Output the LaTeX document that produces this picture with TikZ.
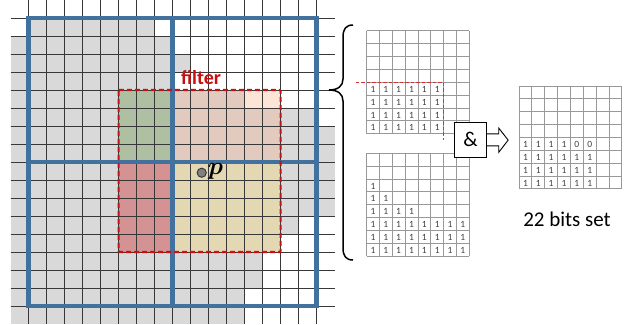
\documentclass[tikz,border=0pt]{standalone}
\usepackage{fontspec}
\setmainfont{Carlito}
\usepackage{bm}
\definecolor{gfill}{RGB}{217,217,217}
\definecolor{bluec}{RGB}{65,113,156}
\definecolor{redc}{RGB}{200,16,16}
\definecolor{greenf}{RGB}{175,191,162}
\definecolor{beigef}{RGB}{226,203,190}
\definecolor{peachf}{RGB}{252,229,214}
\definecolor{redf}{RGB}{213,146,147}
\definecolor{yellowf}{RGB}{228,216,179}
\tikzset{
  gridline/.style={draw=black!78, line width=0.95pt},
  blueline/.style={draw=bluec, line width=4.7pt},
  filterline/.style={draw=redc, line width=2.1pt, dash pattern=on 5pt off 3pt},
  smallgrid/.style={draw=black!40, line width=0.8pt},
  bitnum/.style={font=\fontsize{9.5}{10}\selectfont, text=black!75, inner sep=0pt},
  brace/.style={draw=black, line width=1.5pt},
  blockarrow/.style={draw=black, line width=0.9pt, fill=white, line join=miter},
}
\begin{document}
\begin{tikzpicture}[x=1pt,y=-1pt]
\useasboundingbox (0,0) rectangle (636,324);
\fill[white] (0,0) rectangle (636,324);

% ---- main grid ----
\begin{scope}[shift={(28.6,18)}]
\begin{scope}[x=18pt,y=-18pt]
  \foreach \r/\a/\b in {0/0/6,1/-1/7,2/-1/8,3/-1/7,4/-1/11,5/-1/15,6/-1/16,7/-1/16,8/-1/16,9/-1/16,10/-1/16,11/-1/14,12/-1/13,13/-1/12,14/-1/12,15/-1/11,16/-1/11}
    \fill[gfill] (\a,\r) rectangle ({\b+1},{\r+1});
  \fill[greenf] (5,4) rectangle (8,8);
  \fill[beigef] (8,4) rectangle (14,8);
  \fill[peachf] (12,4) rectangle (14,5);
  \fill[redf] (5,8) rectangle (8,13);
  \fill[yellowf] (8,8) rectangle (14,13);
  \foreach \i in {0,...,16} {
    \draw[gridline] (\i,-1) -- (\i,17);
    \draw[gridline] (-1,\i) -- (17,\i);
  }
  \draw[blueline] (0,0) rectangle (16,16);
  \draw[blueline] (8,0) -- (8,16);
  \draw[blueline] (0,8) -- (16,8);
  \draw[filterline, rounded corners=1pt] (5,4) rectangle (14,13);
\end{scope}
\end{scope}

\node[text=redc, font=\fontsize{20}{22}\selectfont\bfseries, inner sep=0pt] (filterlabel) at (201,78) {filter};
\draw[draw=black!80, fill=black!50, line width=0.9pt] (201.7,172.7) circle (4.6pt);
\node[anchor=west, inner sep=0pt, font=\fontsize{25}{27}\selectfont] (plabel) at (208,171) {$\bm{p}$};

% ---- brace ----
\draw[brace] (353,25) .. controls (346,25) and (343,29) .. (343,37)
  -- (343,79) .. controls (343,86) and (338,90) .. (329,90)
  .. controls (338,90) and (343,94) .. (343,101)
  -- (343,248) .. controls (343,256) and (346,260) .. (353,260);

% ---- top small grid ----
\begin{scope}[shift={(366.5,30.8)}]
\begin{scope}[x=12.85pt,y=-12.85pt]
  \foreach \i in {0,...,8} {
    \draw[smallgrid] (\i,0) -- (\i,8);
    \draw[smallgrid] (0,\i) -- (8,\i);
  }
  \foreach \r in {4,...,7} \foreach \c in {0,...,5}
    \node[bitnum] at (\c+0.5,\r+0.55) {1};
  \draw[draw=redc!85, line width=1.4pt, dash pattern=on 3.5pt off 2pt] (-0.82,4) -- (6,4) -- (6,8.5);
\end{scope}
\end{scope}

% ---- bottom small grid ----
\begin{scope}[shift={(366.5,153.2)}]
\begin{scope}[x=12.85pt,y=-12.85pt]
  \foreach \i in {0,...,8} {
    \draw[smallgrid] (\i,0) -- (\i,8);
    \draw[smallgrid] (0,\i) -- (8,\i);
  }
  \node[bitnum] at (0.5,2.55) {1};
  \foreach \c in {0,1} \node[bitnum] at (\c+0.5,3.55) {1};
  \foreach \c in {0,...,3} \node[bitnum] at (\c+0.5,4.55) {1};
  \foreach \r in {5,6,7} \foreach \c in {0,...,7}
    \node[bitnum] at (\c+0.5,\r+0.55) {1};
\end{scope}
\end{scope}

% ---- result grid ----
\begin{scope}[shift={(519,86)}]
\begin{scope}[x=12.85pt,y=-12.85pt]
  \foreach \i in {0,...,8} {
    \draw[smallgrid] (\i,0) -- (\i,8);
    \draw[smallgrid] (0,\i) -- (8,\i);
  }
  \foreach \c/\v in {0/1,1/1,2/1,3/1,4/0,5/0}
    \node[bitnum] at (\c+0.5,4.55) {\v};
  \foreach \r in {5,6,7} \foreach \c in {0,...,5}
    \node[bitnum] at (\c+0.5,\r+0.55) {1};
\end{scope}
\end{scope}

% ---- AND box and arrow ----
\node[draw=black, line width=0.9pt, fill=white, minimum width=32.4pt, minimum height=35pt, inner sep=0pt, font=\fontsize{21}{23}\selectfont] (andbox) at (470.5,139.8) {\&};
\draw[blockarrow] (andbox.east) ++(0,-6) -- ++(11.6,0) -- ++(0,-5.7) -- ++(9.4,12) -- ++(-9.4,12.2) -- ++(0,-6.5) -- ++(-11.6,0);

\node[font=\fontsize{21}{24}\selectfont, inner sep=0pt] (bitsset) at (567,219) {22 bits set};
\end{tikzpicture}
\end{document}
